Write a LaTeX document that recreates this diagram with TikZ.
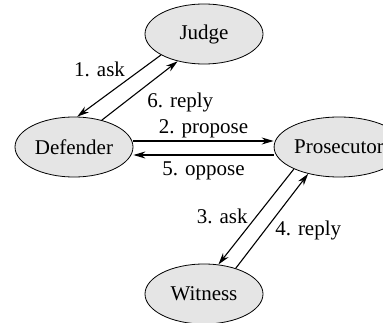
\documentclass[tikz,border=0pt]{standalone}
\usepackage{fontspec}
\setmainfont{Liberation Serif}
\usetikzlibrary{shapes.geometric,arrows.meta}
\tikzset{
  agente/.style={ellipse,draw,thick,fill=gray!20,inner sep=1pt,
    minimum width=118pt,minimum height=60pt},
  msg/.style={-{Stealth[length=12pt,width=7pt]},line width=1.1pt},
  rotulo/.style={inner sep=2pt}
}
\begin{document}
\begin{tikzpicture}[x=1pt,y=-1pt,font=\fontsize{21}{25}\selectfont]
%área da figura
 \useasboundingbox (0,0) rectangle (383,323);
%agentes
 \node[agente] (judge) at (204,34) {Judge};
 \node[agente] (defender) at (74,147) {Defender};
 \node[agente] (prosecutor) at (339,147) {Prosecutor};
 \node[agente] (witness) at (204,294) {Witness};
%juiz e defensor
 \draw[msg] (judge.206) -- node[rotulo,above left,pos=0.4] {1. ask} (defender.84);
 \draw[msg] (defender.44) -- node[rotulo,below right,xshift=5pt,pos=0.5] {6. reply} (judge.226);
%defensor e promotor (yshift em pt, para cima)
 \draw[msg] ([yshift=6pt]defender.east) -- node[rotulo,above] {2. propose} ([yshift=6pt]prosecutor.west);
 \draw[msg] ([yshift=-8pt]prosecutor.west) -- node[rotulo,below=4pt] {5. oppose} ([yshift=-8pt]defender.east);
%promotor e testemunha
 \draw[msg] (prosecutor.206) -- node[rotulo,left=6pt,pos=0.5] {3. ask} (witness.64);
 \draw[msg] (witness.39) -- node[rotulo,right=8pt,pos=0.4] {4. reply} (prosecutor.221);
\end{tikzpicture}
\end{document}
